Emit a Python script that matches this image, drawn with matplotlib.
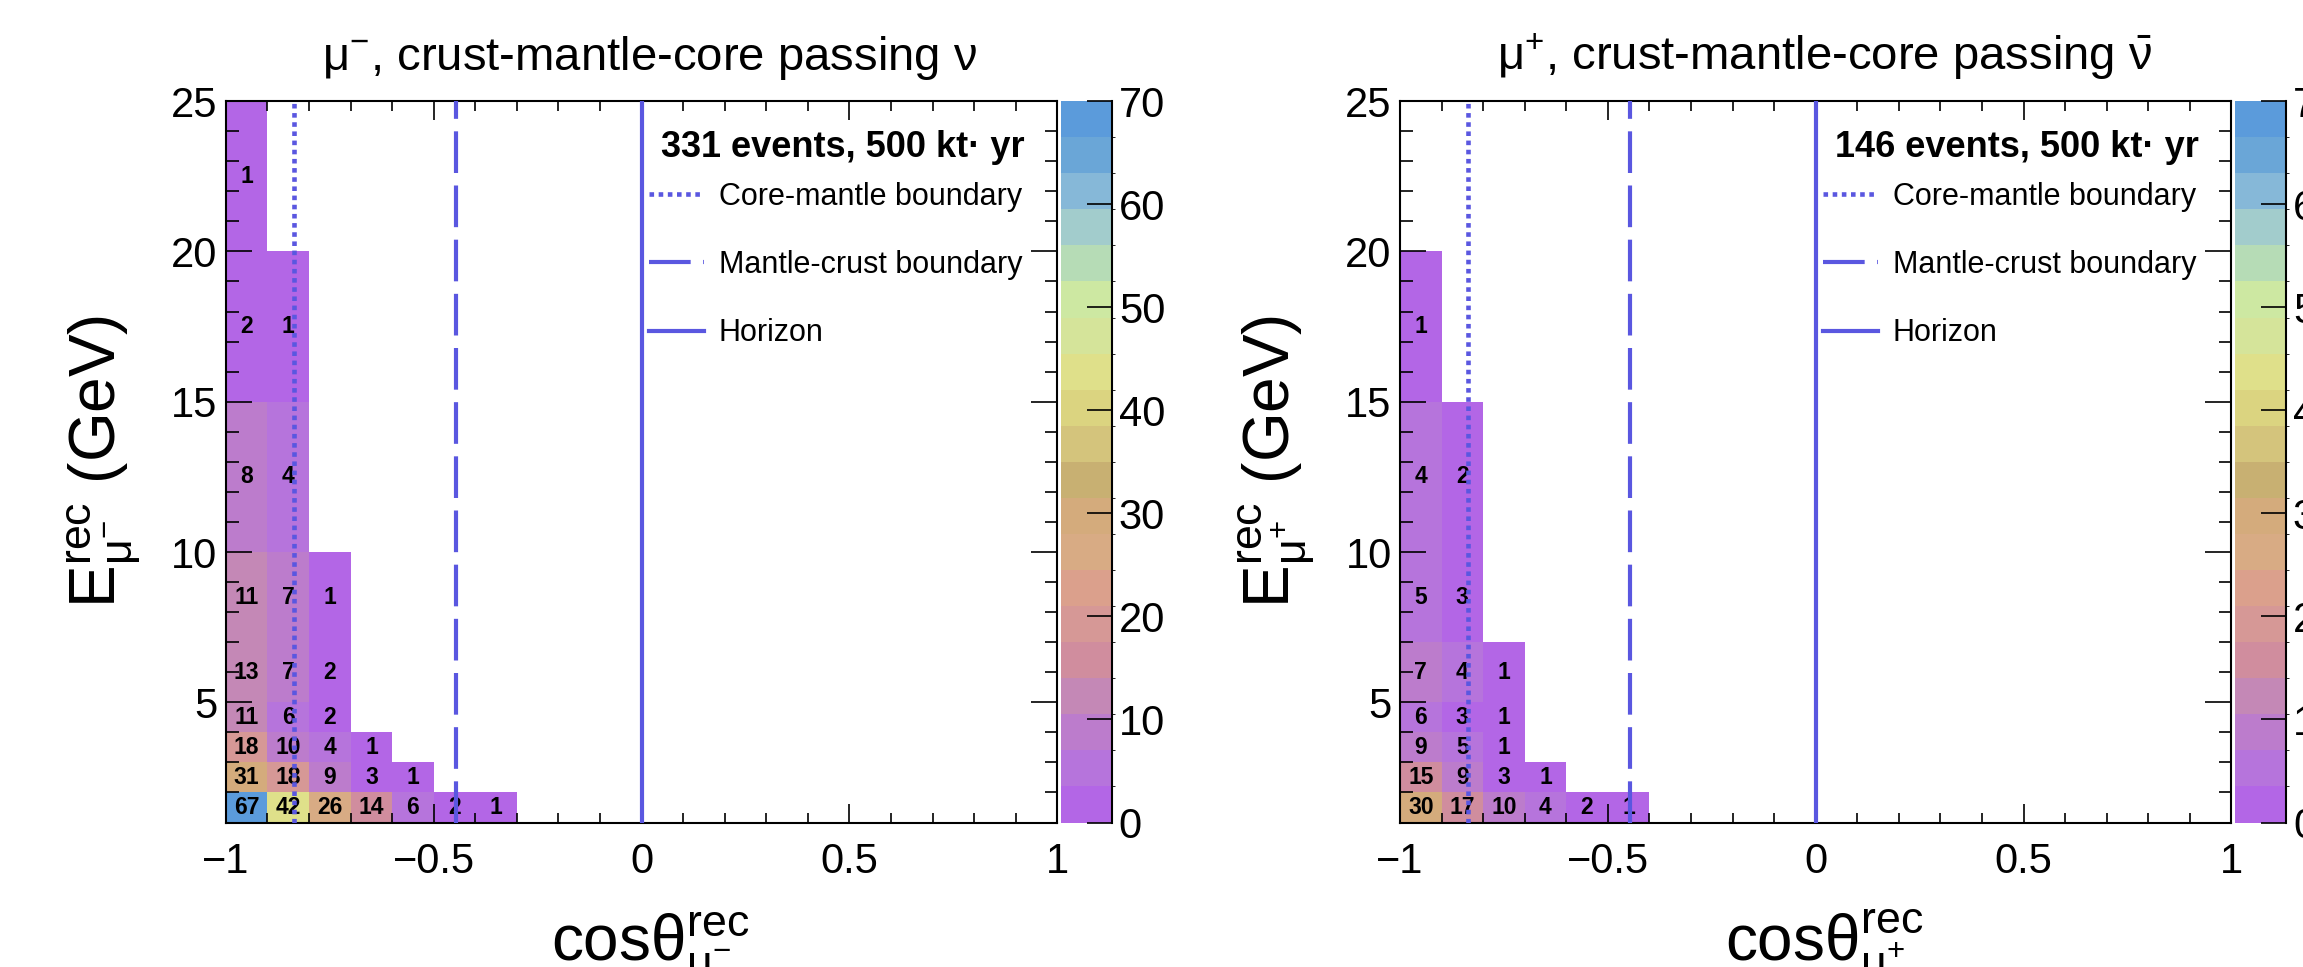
import numpy as np
import matplotlib
matplotlib.use('Agg')
import matplotlib.pyplot as plt
from matplotlib.colors import ListedColormap, BoundaryNorm
from matplotlib.lines import Line2D
from matplotlib.ticker import MultipleLocator

plt.rcParams['font.family'] = ['Liberation Sans', 'DejaVu Sans']
plt.rcParams['mathtext.default'] = 'regular'

# bin edges
cos_edges = np.round(np.arange(-1.0, 1.001, 0.1), 1)
e_edges = [1, 2, 3, 4, 5, 7, 10, 15, 20, 25]

# counts per energy row (bottom to top), starting at cos = -1
mum_rows = [
    [67, 42, 26, 14, 6, 2, 1],
    [31, 18, 9, 3, 1],
    [18, 10, 4, 1],
    [11, 6, 2],
    [13, 7, 2],
    [11, 7, 1],
    [8, 4],
    [2, 1],
    [1],
]
mup_rows = [
    [30, 17, 10, 4, 2, 1],
    [15, 9, 3, 1],
    [9, 5, 1],
    [6, 3, 1],
    [7, 4, 1],
    [5, 3],
    [4, 2],
    [1],
    [],
]

# Earth boundaries in cos(theta)
core_mantle = -0.837
mantle_crust = -0.446
horizon = 0.0

# palette (0 -> 70, 20 steps)
palette = ['#b366e6', '#b674dc', '#bc7ccc', '#c488b6', '#d08d9e', '#d69896',
           '#dba08c', '#d8ab84', '#d4ab7c', '#c8b072', '#d4c47c', '#dbd480',
           '#dfe08a', '#d5e49a', '#cde8a2', '#b6dcb6', '#a2cccc', '#86b8d8',
           '#6aa6d7', '#5b9bdb']
cmap = ListedColormap(palette)
norm = BoundaryNorm(np.linspace(0, 70, 21), cmap.N)
line_col = '#5a57e0'


def fill_matrix(rows):
    m = np.zeros((len(e_edges) - 1, len(cos_edges) - 1))
    for i, r in enumerate(rows):
        m[i, :len(r)] = r
    return m


def draw_panel(ax, cax, rows, title, xlab, ylab, header):
    m = fill_matrix(rows)
    mesh = ax.pcolormesh(cos_edges, e_edges, np.ma.masked_equal(m, 0),
                         cmap=cmap, norm=norm, linewidth=0, antialiased=False)
    xc = 0.5 * (cos_edges[1:] + cos_edges[:-1])
    yc = 0.5 * (np.array(e_edges[1:]) + np.array(e_edges[:-1]))
    for i in range(m.shape[0]):
        for j in range(m.shape[1]):
            if m[i, j] > 0:
                ax.text(xc[j], yc[i], '%d' % m[i, j], ha='center', va='center',
                        fontsize=16.5, fontweight='bold', zorder=3)

    # boundary lines
    ax.axvline(core_mantle, color=line_col, lw=3.3, ls=(0, (1, 1)), zorder=4)
    ax.axvline(mantle_crust, color=line_col, lw=3, ls=(0, (10, 3)), zorder=4)
    ax.axvline(horizon, color=line_col, lw=3, zorder=4)

    # legend header + entries
    ax.text(0.742, 0.936, header, transform=ax.transAxes, ha='center',
            va='center', fontsize=26, fontweight='bold')
    handles = [Line2D([], [], color=line_col, lw=3.3, ls=(0, (1, 1))),
               Line2D([], [], color=line_col, lw=3, ls=(0, (10, 3))),
               Line2D([], [], color=line_col, lw=3)]
    ax.legend(handles, ['Core-mantle boundary', 'Mantle-crust boundary', 'Horizon'],
              loc='upper left', bbox_to_anchor=(0.509, 0.888), frameon=False,
              fontsize=22, handlelength=1.8, handletextpad=0.48,
              labelspacing=1.25, borderpad=0, borderaxespad=0)

    ax.set_xlim(-1, 1)
    ax.set_ylim(1, 25)
    ax.set_xticks([-1, -0.5, 0, 0.5, 1])
    ax.set_xticklabels(['\u22121', '\u22120.5', '0', '0.5', '1'])
    ax.xaxis.set_minor_locator(MultipleLocator(0.1))
    ax.set_yticks([5, 10, 15, 20, 25])
    ax.yaxis.set_minor_locator(MultipleLocator(1))
    ax.tick_params(which='both', direction='in', top=True, right=True,
                   width=1.2, labelsize=30)
    ax.tick_params(axis='x', which='major', length=14, pad=14)
    ax.tick_params(axis='x', which='minor', length=7)
    ax.tick_params(axis='y', which='major', length=19, pad=6)
    ax.tick_params(axis='y', which='minor', length=9)
    for s in ax.spines.values():
        s.set_linewidth(1.5)

    ax.text(0.51, 1.043, title, transform=ax.transAxes, ha='center',
            va='baseline', fontsize=34)
    ax.set_xlabel(xlab, fontsize=46)
    ax.xaxis.label.set_va('baseline')
    ax.xaxis.set_label_coords(0.51, -0.19)
    ax.set_ylabel(ylab, fontsize=46)
    ax.yaxis.set_label_coords(-0.101, 0.5)

    cb = fig.colorbar(mesh, cax=cax, ticks=range(0, 71, 10))
    cb.outline.set_visible(False)
    cax.spines['right'].set_visible(True)
    cax.spines['right'].set_linewidth(1.5)
    cax.tick_params(direction='in', length=18, width=1.2, labelsize=30, pad=5)


fig = plt.figure(figsize=(23.03, 9.67), dpi=100)
ax1 = fig.add_axes([0.0981, 0.1494, 0.361, 0.746])
cax1 = fig.add_axes([0.4607, 0.1494, 0.0221, 0.746])
ax2 = fig.add_axes([0.6079, 0.1494, 0.361, 0.746])
cax2 = fig.add_axes([0.9705, 0.1494, 0.0221, 0.746])

draw_panel(ax1, cax1, mum_rows,
           r'$\mu^{-}$, crust-mantle-core passing $\nu$',
           r'$cos\theta^{rec}_{\mu^{-}}$',
           r'$E^{rec}_{\mu^{-}}$ (GeV)',
           '331 events, 500 kt\u00b7 yr')
draw_panel(ax2, cax2, mup_rows,
           r'$\mu^{+}$, crust-mantle-core passing $\bar{\nu}$',
           r'$cos\theta^{rec}_{\mu^{+}}$',
           r'$E^{rec}_{\mu^{+}}$ (GeV)',
           '146 events, 500 kt\u00b7 yr')

fig.savefig('out.png', dpi=100)
